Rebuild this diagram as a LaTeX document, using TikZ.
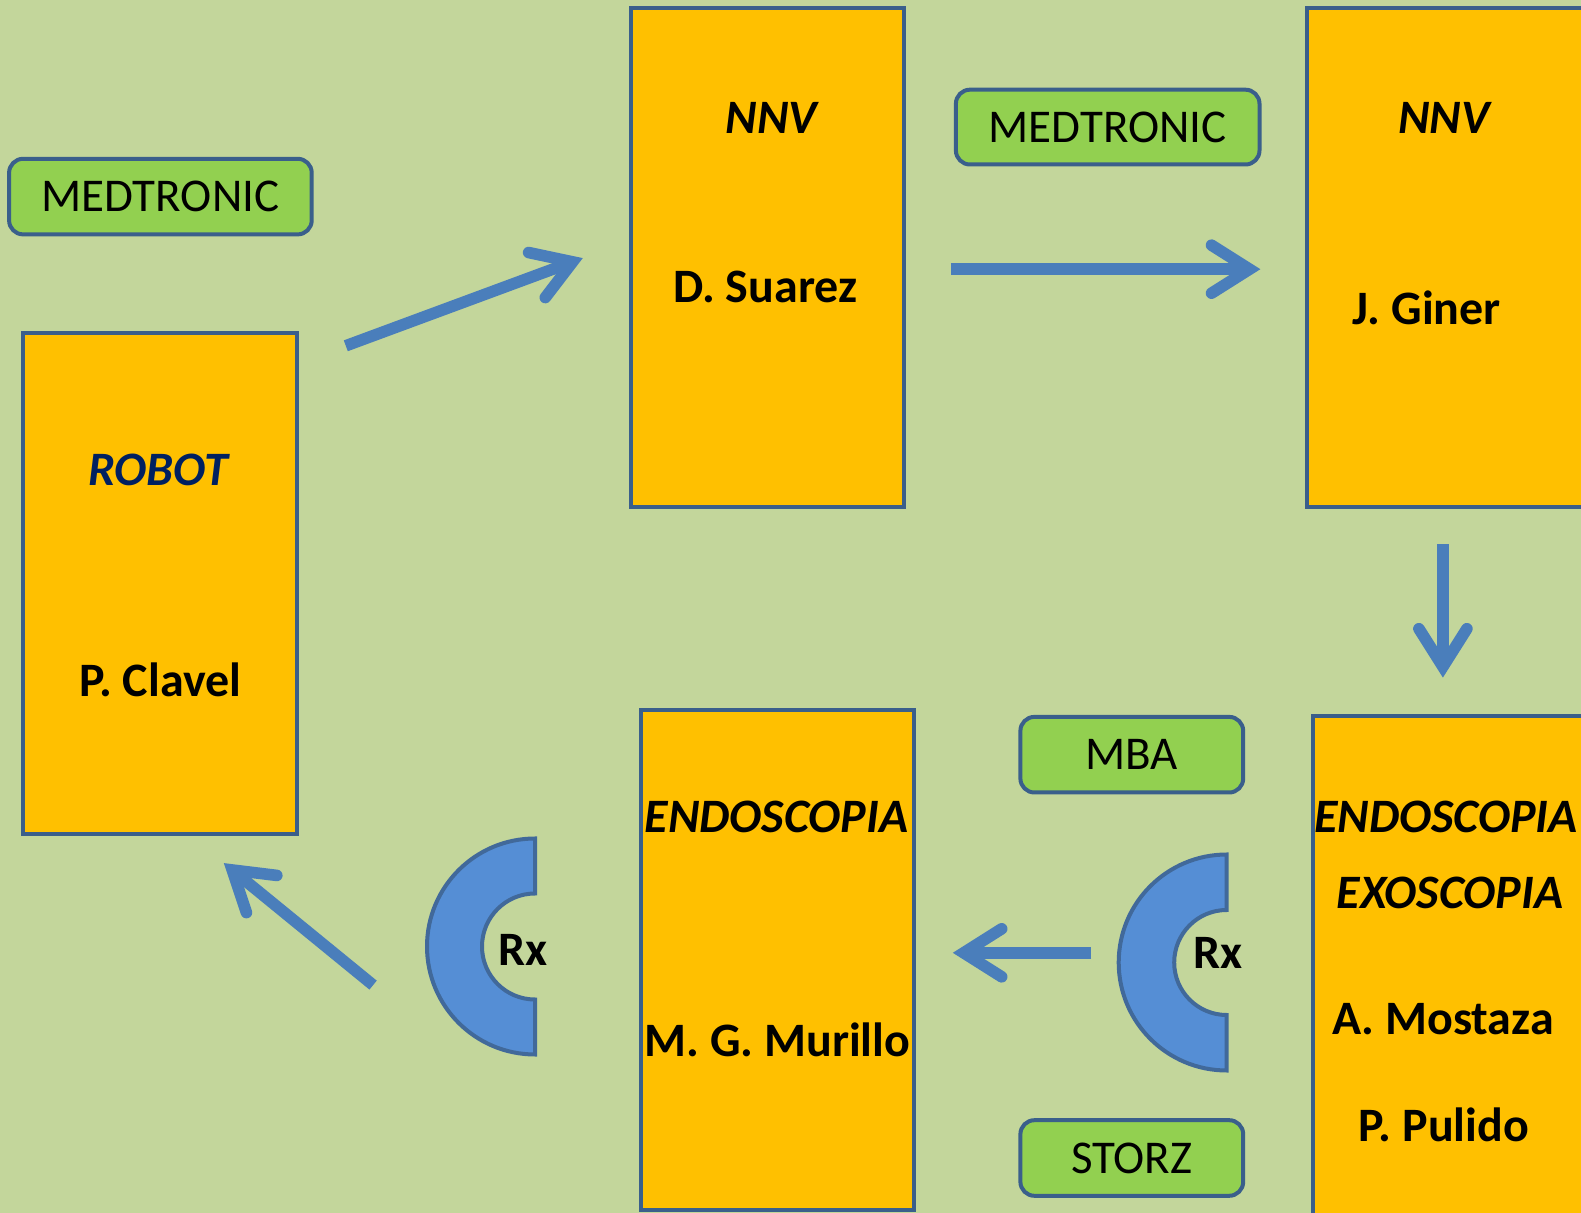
\documentclass[tikz,border=0pt]{standalone}
\usepackage{fontspec}
\setmainfont{Carlito}
\usepackage{xcolor}
\usetikzlibrary{arrows.meta}

\definecolor{bgGreen}{HTML}{C3D69B}
\definecolor{boxOrange}{HTML}{FFC000}
\definecolor{boxEdge}{HTML}{3A5F8B}
\definecolor{tagGreen}{HTML}{92D050}
\definecolor{flowBlue}{HTML}{4A7EBB}
\definecolor{rxBlue}{HTML}{558ED5}
\definecolor{rxEdge}{HTML}{41699A}
\definecolor{robotBlue}{HTML}{002060}

\begin{document}
\begin{tikzpicture}[x=0.5pt,y=-0.5pt,
  teambox/.style={draw=boxEdge, line width=2pt, fill=boxOrange, inner sep=0pt},
  tagbox/.style={draw=boxEdge, line width=2pt, fill=tagGreen, rounded corners=7pt,
    inner sep=0pt, minimum width=#1, minimum height=37.8pt,
    font=\fontsize{23.5}{27}\selectfont},
  bigtxt/.style={font=\fontsize{24}{28}\selectfont\bfseries, inner sep=0pt},
  flow/.style={draw=flowBlue, line width=5.8pt,
    -{Straight Barb[length=19pt, width=24pt, line cap=round, line join=miter]}},
  rxring/.style={draw=rxEdge, line width=2pt, fill=rxBlue}]

  % Background
  \useasboundingbox (0,0) rectangle (1581,1213);
  \clip (0,0) rectangle (1581,1213);
  \fill[bgGreen] (0,0) rectangle (1581,1213);

  % Orange boxes
  \node[teambox, minimum width=137.1pt, minimum height=250.6pt] (robot) at (160.3,583.3) {};
  \node[teambox, minimum width=136.6pt, minimum height=249.6pt] (suarez) at (767.8,257.7) {};
  \node[teambox, minimum width=141.6pt, minimum height=249.6pt] (giner) at (1448.4,257.7) {};
  \node[teambox, minimum width=136.1pt, minimum height=250.1pt] (murillo) at (777.4,959.9) {};
  \node[teambox, minimum width=138.6pt, minimum height=254.6pt] (mostaza) at (1451.4,970.5) {};

  % Texts in the boxes
  \node[bigtxt, text=robotBlue] (robotT) at (158.3,470) {\itshape ROBOT};
  \node[bigtxt] (robotN) at (160.3,679.6) {P. Clavel};
  \node[bigtxt] (suarezT) at (771.3,118) {\itshape NNV};
  \node[bigtxt] (suarezN) at (765.3,287.4) {D. Suarez};
  \node[bigtxt] (ginerT) at (1443.9,118) {\itshape NNV};
  \node[bigtxt] (ginerN) at (1426.7,307.5) {J. Giner};
  \node[bigtxt] (murilloT) at (776.4,816.7) {\itshape ENDOSCOPIA};
  \node[bigtxt] (murilloN) at (777.4,1039.5) {M. G. Murillo};
  \node[bigtxt] (mostazaT) at (1445.9,816.7) {\itshape ENDOSCOPIA};
  \node[bigtxt] (mostazaU) at (1449.9,893.3) {\itshape EXOSCOPIA};
  \node[bigtxt] (mostazaN) at (1442.9,1019.4) {A. Mostaza};
  \node[bigtxt] (pulidoN) at (1443.9,1125.3) {P. Pulido};

  % Green tags
  \node[tagbox=151.3pt] (medA) at (160.4,196.6) {MEDTRONIC};
  \node[tagbox=151.8pt, minimum height=37.4pt] (medB) at (1107.7,127.1) {MEDTRONIC};
  \node[tagbox=111.4pt] (mba) at (1131.8,754.7) {MBA};
  \node[tagbox=111.4pt] (storz) at (1131.8,1158) {STORZ};

  % Rx half rings
  \draw[rxring] (535,838.5) arc[start angle=90, end angle=270, radius=54pt]
    -- (535,999.5) arc[start angle=270, end angle=90, radius=26.5pt] -- cycle;
  \node[bigtxt] (rxA) at (523.3,949.8) {Rx};
  \draw[rxring] (1226.7,854.5) arc[start angle=90, end angle=270, radius=54pt]
    -- (1226.7,1015) arc[start angle=270, end angle=90, radius=26.25pt] -- cycle;
  \node[bigtxt] (rxB) at (1218,952.8) {Rx};

  % Flow arrows
  \coordinate (f1s) at (345.8,345.8); \coordinate (f1e) at (582.8,258.1);
  \coordinate (f2s) at (950.8,269.2); \coordinate (f2e) at (1260.4,269.2);
  \coordinate (f3s) at (1442.9,544.5); \coordinate (f3e) at (1442.9,677.6);
  \coordinate (f4s) at (1091,952.8); \coordinate (f4e) at (952.8,952.8);
  \coordinate (f5s) at (373.1,985.1); \coordinate (f5e) at (223.8,863.1);
  \draw[flow] (f1s) -- (f1e);
  \draw[flow] (f2s) -- (f2e);
  \draw[flow] (f3s) -- (f3e);
  \draw[flow] (f4s) -- (f4e);
  \draw[flow] (f5s) -- (f5e);
\end{tikzpicture}
\end{document}
